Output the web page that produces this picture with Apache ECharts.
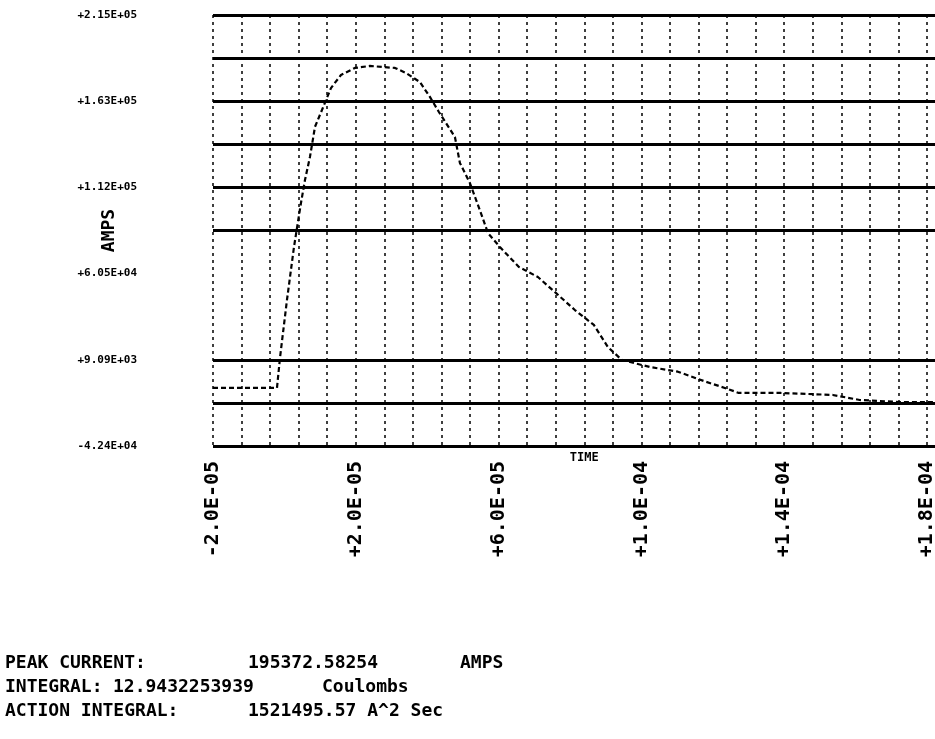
<!DOCTYPE html>
<html>
<head>
<meta charset="utf-8">
<script src="https://cdn.jsdelivr.net/npm/echarts@6.0.0/dist/echarts.min.js"></script>
<style>
html,body{margin:0;padding:0;background:#fff;}
#chart{width:935px;height:739px;}
</style>
</head>
<body>
<div id="chart"></div>
<script>
// ---- data ----
const timeValues = [
  -2.0e-5, -1.24e-5, -2.08e-6, -1.24e-6, 7.2e-7, 2.68e-6, 4.64e-6, 5.76e-6, 7.16e-6,
  8.56e-6, 1.052e-5, 1.304e-5, 1.584e-5, 1.976e-5, 2.396e-5, 3.096e-5, 3.404e-5,
  3.796e-5, 4.076e-5, 4.328e-5, 4.776e-5, 4.916e-5, 5.196e-5, 5.504e-5, 5.70e-5,
  6.036e-5, 6.568e-5, 7.10e-5, 7.604e-5, 8.136e-5, 8.668e-5, 9.06e-5, 9.452e-5,
  1.0236e-4, 1.102e-4, 1.1804e-4, 1.2336e-4, 1.2728e-4, 1.3904e-4, 1.536e-4,
  1.6116e-4, 1.7236e-4, 1.8216e-4
];
const currentValues = [
  -7700, -7700, -7700, 10200, 44800, 76400, 102700, 116400, 130200,
  148100, 158200, 171300, 179100, 183300, 184500, 183300, 180300,
  174900, 166000, 157000, 142100, 126600, 114600, 96700, 84800,
  76400, 64500, 58500, 49000, 38800, 29900, 16700, 9000,
  4800, 2000, -4000, -7700, -10700, -10700, -11900,
  -14900, -16100, -16100
];
const xTickLabels = ["-2.0E-05", "+2.0E-05", "+6.0E-05", "+1.0E-04", "+1.4E-04", "+1.8E-04"];
const yTickLabels = ["-4.24E+04", "+9.09E+03", "+6.05E+04", "+1.12E+05", "+1.63E+05", "+2.15E+05"];
const xAxisName = "TIME";
const yAxisName = "AMPS";
const summaryLabels = ["PEAK CURRENT:", "INTEGRAL:", "ACTION INTEGRAL:"];
const summaryValues = ["195372.58254", "12.9432253939", "1521495.57 A^2 Sec"];
const summaryUnits = ["AMPS", "Coulombs", ""];

// ---- axis scale settings ----
const xMin = -2.0e-5, xStep = 8.0e-6, xMax = 1.88e-4, xLabelEvery = 5;
const yMin = -42365, yStep = 25727.5, yMax = 214910, yLabelEvery = 2;

const mono = '"DejaVu Sans Mono", "Liberation Mono", monospace';
const yLineColors = ['#000','#000','#000','rgba(0,0,0,0)','rgba(0,0,0,0)','#000','#000','#000','#000','#000','#000'];

const chart = echarts.init(document.getElementById('chart'), null, {renderer: 'canvas'});

const summaryRowsY = [663, 687, 711];
const summaryLabelX = [5, 5, 5];
const summaryValueX = [248, 113, 248];
const summaryUnitX = [460, 322, 0];
const graphics = [];
summaryLabels.forEach((lab, i) => {
  const font = 'bold 18px ' + mono;
  graphics.push({type: 'text', x: summaryLabelX[i], y: summaryRowsY[i],
    style: {text: lab, font: font, fill: '#000', verticalAlign: 'middle'}});
  graphics.push({type: 'text', x: summaryValueX[i], y: summaryRowsY[i],
    style: {text: summaryValues[i], font: font, fill: '#000', verticalAlign: 'middle'}});
  if (summaryUnits[i]) {
    graphics.push({type: 'text', x: summaryUnitX[i], y: summaryRowsY[i],
      style: {text: summaryUnits[i], font: font, fill: '#000', verticalAlign: 'middle'}});
  }
});

const option = {
  animation: false,
  backgroundColor: '#fff',
  grid: {left: 213, top: 15, width: 742.6, height: 431, containLabel: false, outerBoundsMode: 'none'},
  xAxis: {
    type: 'value', min: xMin, max: xMax, interval: xStep,
    axisLine: {show: false}, axisTick: {show: false},
    splitLine: {show: true, lineStyle: {color: '#000', width: 1.5, type: [3, 4]}},
    axisLabel: {
      rotate: 90, margin: 15, color: '#000', fontFamily: mono, fontWeight: 'bold', fontSize: 20,
      showMinLabel: true, showMaxLabel: true, hideOverlap: false,
      formatter: function (v) {
        const idx = Math.round((v - xMin) / xStep);
        if (idx % xLabelEvery !== 0) return '';
        return xTickLabels[idx / xLabelEvery] || '';
      }
    },
    name: xAxisName, nameLocation: 'middle', nameGap: 6, nameMoveOverlap: false,
    nameTextStyle: {color: '#000', fontFamily: mono, fontWeight: 'bold', fontSize: 12, verticalAlign: 'top'}
  },
  yAxis: {
    type: 'value', min: yMin, max: yMax, interval: yStep,
    axisLine: {show: false}, axisTick: {show: false},
    splitLine: {show: true, lineStyle: {color: yLineColors, width: 3}},
    axisLabel: {
      margin: 76, color: '#000', fontFamily: mono, fontWeight: 'bold', fontSize: 11,
      showMinLabel: true, showMaxLabel: true, hideOverlap: false,
      formatter: function (v) {
        const idx = Math.round((v - yMin) / yStep);
        if (idx % yLabelEvery !== 0) return '';
        return yTickLabels[idx / yLabelEvery] || '';
      }
    },
    name: yAxisName, nameLocation: 'middle', nameGap: 95, nameMoveOverlap: false,
    nameTextStyle: {color: '#000', fontFamily: mono, fontWeight: 'bold', fontSize: 18}
  },
  series: [{
    type: 'line',
    data: timeValues.map((t, i) => [t, currentValues[i]]),
    symbol: 'none',
    smooth: false,
    lineStyle: {color: '#000', width: 2.2, type: [5, 3]},
    z: 3
  }],
  graphic: graphics
};
chart.setOption(option);
</script>
</body>
</html>
